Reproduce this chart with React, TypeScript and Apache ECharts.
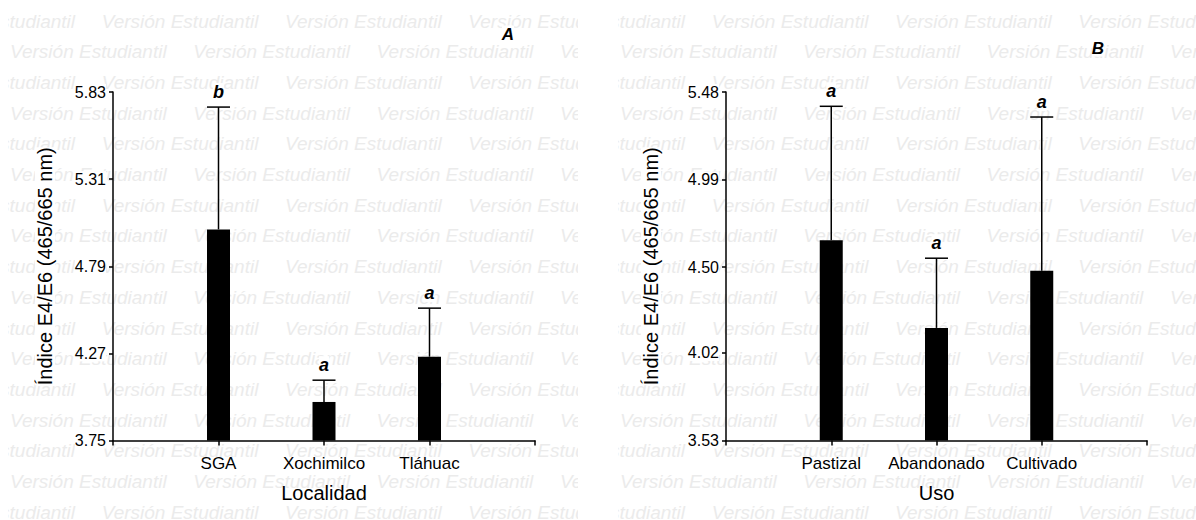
import React, { useEffect, useRef } from 'react';
import * as echarts from 'echarts';

// ---------- data ----------
const localidades = ['SGA', 'Xochimilco', 'Tláhuac'];
const mediaLocalidad = [5.01, 3.98, 4.25];
const errorLocalidad = [0.73, 0.13, 0.29];
const letrasLocalidad = ['b', 'a', 'a'];
const ticksLocalidad = [3.75, 4.27, 4.79, 5.31, 5.83];

const usos = ['Pastizal', 'Abandonado', 'Cultivado'];
const mediaUso = [4.65, 4.16, 4.48];
const errorUso = [0.75, 0.39, 0.86];
const letrasUso = ['a', 'a', 'a'];
const ticksUso = [3.53, 4.02, 4.5, 4.99, 5.48];

const yAxisName = 'Índice E4/E6 (465/665 nm)';
const watermarkText = 'Versión Estudiantil';

const FONT = '"Liberation Sans", Arial, Helvetica, sans-serif';

type Panel = {
  categories: string[];
  means: number[];
  errors: number[];
  letters: string[];
  ticks: number[];
  xName: string;
  panelLetter: string;
  panelLetterPos: [number, number];
  gridLeft: number;
  gridWidth: number;
  yNameGap: number;
};

function watermark() {
  const els: any[] = [];
  for (let i = 0; i < 17; i++) {
    const y = 21 + 30.7 * i;
    const x0 = i % 2 === 0 ? -89.6 : 2;
    for (let k = 0; k < 4; k++) {
      els.push({
        type: 'text',
        x: x0 + 183.3 * k,
        y,
        z: -10,
        silent: true,
        style: {
          text: watermarkText,
          font: `italic 19px ${FONT}`,
          fill: '#ebebeb',
          verticalAlign: 'middle',
          align: 'left',
        },
      });
    }
  }
  return els;
}

function buildOption(p: Panel): any {
  const cats = ['', ...p.categories, ''];
  const barData = [null, ...p.means, null];
  const errData = p.means.map((m, i) => [i + 1, m, p.errors[i]]);
  return {
    animation: false,
    backgroundColor: '#fff',
    textStyle: { fontFamily: FONT },
    graphic: [
      ...watermark(),
      {
        type: 'text',
        x: p.panelLetterPos[0],
        y: p.panelLetterPos[1],
        z: 10,
        style: {
          text: p.panelLetter,
          font: `italic bold 17px ${FONT}`,
          fill: '#000',
          align: 'center',
          verticalAlign: 'middle',
          backgroundColor: '#fff',
        },
      },
    ],
    grid: { left: p.gridLeft, top: 92, width: p.gridWidth, height: 348.5, containLabel: false },
    xAxis: {
      type: 'category',
      data: cats,
      boundaryGap: false,
      axisLine: { show: true, lineStyle: { color: '#000', width: 1.5 } },
      axisTick: { show: true, interval: 0, length: 5, lineStyle: { color: '#000', width: 1.5 } },
      axisLabel: { interval: 0, fontSize: 17, color: '#000', margin: 14, fontFamily: FONT },
      splitLine: { show: false },
      name: p.xName,
      nameLocation: 'middle',
      nameGap: 42,
      nameTextStyle: { fontSize: 20, color: '#000', fontFamily: FONT },
    },
    yAxis: {
      type: 'value',
      min: p.ticks[0],
      max: p.ticks[p.ticks.length - 1],
      axisLine: { show: true, lineStyle: { color: '#000', width: 1.5 } },
      axisTick: { show: true, length: 4, customValues: p.ticks, lineStyle: { color: '#000', width: 1.5 } },
      axisLabel: {
        customValues: p.ticks,
        formatter: (v: number) => v.toFixed(2),
        fontSize: 16,
        color: '#000',
        margin: 7,
        fontFamily: FONT,
        backgroundColor: '#fff',
      },
      splitLine: { show: false },
      name: yAxisName,
      nameLocation: 'middle',
      nameGap: p.yNameGap,
      nameRotate: 90,
      nameTextStyle: { fontSize: 20, color: '#000', fontFamily: FONT, backgroundColor: '#fff' },
    },
    series: [
      {
        type: 'bar',
        data: barData,
        barWidth: 23,
        itemStyle: { color: '#000' },
        z: 3,
      },
      {
        type: 'custom',
        data: errData,
        encode: { x: 0, y: 1 },
        z: 4,
        renderItem: (params: any, api: any) => {
          const idx = api.value(0);
          const m = api.value(1);
          const e = api.value(2);
          const top = api.coord([idx, m + e]);
          const base = api.coord([idx, m]);
          const half = 11.5;
          return {
            type: 'group',
            children: [
              {
                type: 'line',
                shape: { x1: top[0], y1: top[1], x2: base[0], y2: base[1] },
                style: { stroke: '#000', lineWidth: 1.5 },
              },
              {
                type: 'line',
                shape: { x1: top[0] - half, y1: top[1], x2: top[0] + half, y2: top[1] },
                style: { stroke: '#000', lineWidth: 1.5 },
              },
              {
                type: 'text',
                x: top[0],
                y: top[1] - 6,
                style: {
                  text: p.letters[params.dataIndex],
                  font: `italic bold 18px ${FONT}`,
                  fill: '#000',
                  align: 'center',
                  verticalAlign: 'bottom',
                  backgroundColor: '#fff',
                },
              },
            ],
          };
        },
      },
    ],
  };
}

function ChartPanel({ panel, left, width }: { panel: Panel; left: number; width: number }) {
  const ref = useRef<HTMLDivElement>(null);
  useEffect(() => {
    if (!ref.current) return;
    const chart = echarts.init(ref.current, undefined, { renderer: 'svg' });
    chart.setOption(buildOption(panel));
    return () => chart.dispose();
  }, []);
  return (
    <div
      ref={ref}
      style={{ position: 'absolute', left, top: 0, width, height: 520, overflow: 'hidden' }}
    />
  );
}

const panelA: Panel = {
  categories: localidades,
  means: mediaLocalidad,
  errors: errorLocalidad,
  letters: letrasLocalidad,
  ticks: ticksLocalidad,
  xName: 'Localidad',
  panelLetter: 'A',
  panelLetterPos: [500, 34],
  gridLeft: 105,
  gridWidth: 422,
  yNameGap: 58,
};

const panelB: Panel = {
  categories: usos,
  means: mediaUso,
  errors: errorUso,
  letters: letrasUso,
  ticks: ticksUso,
  xName: 'Uso',
  panelLetter: 'B',
  panelLetterPos: [480, 48],
  gridLeft: 108,
  gridWidth: 421,
  yNameGap: 65,
};

export default function App() {
  return (
    <div style={{ position: 'absolute', left: 0, top: 0, width: 1196, height: 520, background: '#fff', overflow: 'hidden' }}>
      <ChartPanel panel={panelA} left={8} width={570} />
      <ChartPanel panel={panelB} left={618} width={578} />
    </div>
  );
}
